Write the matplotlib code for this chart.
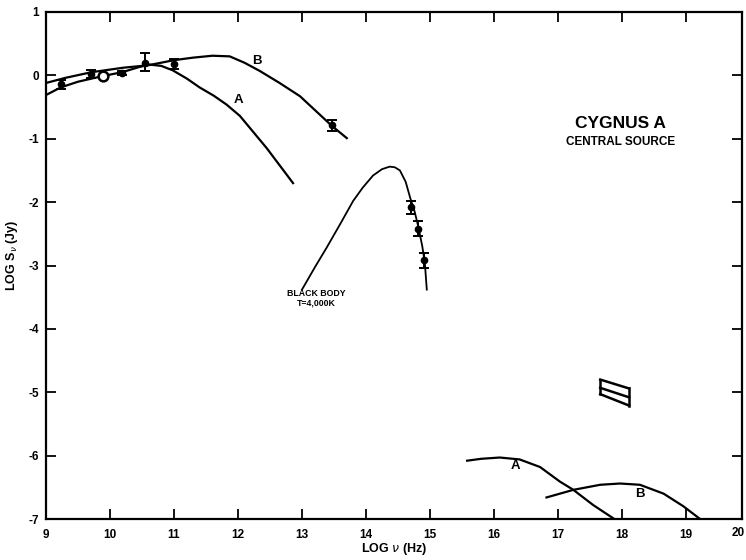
import numpy as np
import matplotlib
matplotlib.use('Agg')
import matplotlib.pyplot as plt

plt.rcParams['font.family'] = ['Liberation Sans', 'DejaVu Sans']

# %% Data (log nu [Hz], log S_nu [Jy])
# radio / mm measurements
radio_x = [9.23, 9.71, 10.19, 10.54, 11.0, 13.47]
radio_y = [-0.14, 0.02, 0.04, 0.19, 0.18, -0.79]
radio_lo = [0.07, 0.06, 0.03, 0.12, 0.08, 0.08]
radio_hi = [0.07, 0.06, 0.03, 0.17, 0.08, 0.08]
circle_x = [9.89]
circle_y = [-0.01]

# near-IR / optical measurements
opt_x = [14.71, 14.82, 14.91]
opt_y = [-2.08, -2.42, -2.92]
opt_err = [0.10, 0.12, 0.12]

# model A (radio part)
modA_x = [9.0, 9.23, 9.5, 9.89, 10.19, 10.45, 10.62, 10.8, 10.98, 11.2, 11.4, 11.62, 11.82, 12.03, 12.45, 12.86]
modA_y = [-0.31, -0.19, -0.1, -0.01, 0.05, 0.13, 0.17, 0.15, 0.08, -0.05, -0.19, -0.32, -0.46, -0.64, -1.15, -1.70]

# model B (radio part)
modB_x = [9.0, 9.3, 9.71, 10.2, 10.6, 11.0, 11.3, 11.6, 11.87, 12.1, 12.34, 12.65, 12.97, 13.47, 13.7]
modB_y = [-0.12, -0.04, 0.05, 0.12, 0.16, 0.24, 0.28, 0.31, 0.30, 0.2, 0.07, -0.12, -0.33, -0.80, -0.99]

# black body T = 4000 K
bb_x = [13.0, 13.2, 13.39, 13.6, 13.8, 13.95, 14.11, 14.25, 14.37, 14.45, 14.53, 14.62, 14.69, 14.76, 14.82, 14.88, 14.92, 14.95]
bb_y = [-3.38, -3.03, -2.71, -2.34, -1.98, -1.77, -1.58, -1.48, -1.44, -1.45, -1.50, -1.68, -1.93, -2.15, -2.40, -2.70, -2.97, -3.38]

# X-ray models
xA_x = [15.58, 15.8, 16.09, 16.4, 16.72, 17.03, 17.24, 17.55, 17.88]
xA_y = [-6.08, -6.05, -6.03, -6.06, -6.18, -6.41, -6.54, -6.78, -7.0]
xB_x = [16.82, 17.24, 17.66, 17.97, 18.28, 18.65, 18.96, 19.22]
xB_y = [-6.66, -6.54, -6.46, -6.44, -6.46, -6.6, -6.8, -7.0]

# X-ray box (left/right edges, three slanted lines)
box_x = [17.66, 18.11]
box_top = [-4.80, -4.94]
box_mid = [-4.93, -5.08]
box_bot = [-5.03, -5.21]

xticks = list(range(9, 20))
yticks = list(range(-7, 2))

# %% Plot
fig = plt.figure(figsize=(7.46, 5.6), dpi=100)
ax = fig.add_axes([46/746, 41/560, 696/746, 507/560])

lw = 1.6
ax.plot(modA_x, modA_y, color='black', lw=lw)
ax.plot(modB_x, modB_y, color='black', lw=lw)
ax.plot(bb_x, bb_y, color='black', lw=1.3)
ax.plot(xA_x, xA_y, color='black', lw=lw)
ax.plot(xB_x, xB_y, color='black', lw=lw)

for yy in (box_top, box_mid, box_bot):
    ax.plot(box_x, yy, color='black', lw=1.8)
ax.plot([box_x[0], box_x[0]], [box_top[0], box_bot[0]], color='black', lw=1.8)
ax.plot([box_x[1], box_x[1]], [box_top[1], box_bot[1]], color='black', lw=1.8)

ax.errorbar(radio_x, radio_y, yerr=[radio_lo, radio_hi], fmt='o', color='black',
            ms=4.5, capsize=3.5, elinewidth=1.4, capthick=1.4)
ax.plot(circle_x, circle_y, 'o', mfc='white', mec='black', mew=1.8, ms=7)
ax.errorbar(opt_x, opt_y, yerr=opt_err, fmt='o', color='black',
            ms=4.5, capsize=3.5, elinewidth=1.4, capthick=1.4)

# labels on curves
ax.text(12.0, -0.39, 'A', fontsize=9.5, fontweight='bold', ha='center', va='center')
ax.text(12.3, 0.22, 'B', fontsize=9.5, fontweight='bold', ha='center', va='center')
ax.text(16.33, -6.17, 'A', fontsize=9.5, fontweight='bold', ha='center', va='center')
ax.text(18.28, -6.6, 'B', fontsize=9.5, fontweight='bold', ha='center', va='center')
ax.text(13.23, -3.52, 'BLACK BODY\nT=4,000K', fontsize=6.3, fontweight='bold',
        ha='center', va='center', linespacing=1.1)
ax.text(17.97, -0.76, 'CYGNUS A', fontsize=12.5, fontweight='bold', ha='center', va='center')
ax.text(17.97, -1.05, 'CENTRAL SOURCE', fontsize=8.5, fontweight='bold', ha='center', va='center')

ax.set_xlim(9, 19.875)
ax.set_ylim(-7, 1)
ax.set_xticks(xticks)
ax.set_yticks(yticks)
ax.set_xticklabels([str(t) for t in xticks], fontsize=8.5, fontweight='bold')
ax.set_yticklabels([str(t) for t in yticks], fontsize=8.5, fontweight='bold')
# the "20" tick label sits at the very right edge of the scan
ax.text(1.0045, -0.015, '20', transform=ax.transAxes, fontsize=8.5, fontweight='bold',
        ha='right', va='top', clip_on=False)
ax.tick_params(direction='in', length=7, width=1.3, top=True, right=True, pad=7)
ax.tick_params(axis='y', pad=5)
for s in ax.spines.values():
    s.set_linewidth(1.6)

ax.set_xlabel(r'LOG $\nu$ (Hz)', fontsize=9, fontweight='bold', labelpad=0)
ax.set_ylabel(r'LOG S$_\nu$ (Jy)', fontsize=9, fontweight='bold')
ax.yaxis.set_label_coords(-0.038, 0.52)

fig.savefig('out.png', dpi=100)
